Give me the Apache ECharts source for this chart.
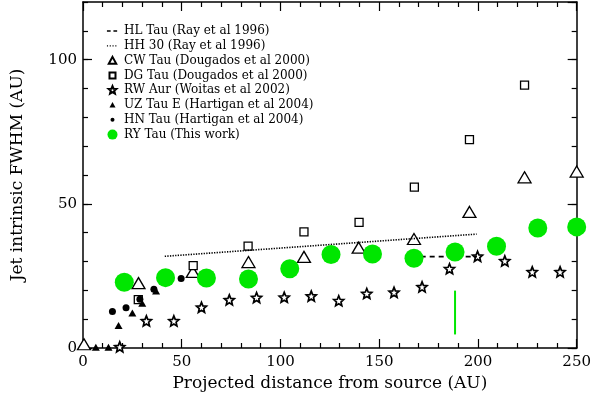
<!DOCTYPE html>
<html>
<head>
<meta charset="UTF-8">
<title>Jet intrinsic FWHM vs projected distance</title>
<script src="https://cdn.jsdelivr.net/npm/echarts@6/dist/echarts.min.js"></script>
<style>
  html, body { margin: 0; padding: 0; background: #fff; }
  #main { width: 594px; height: 397px; }
</style>
</head>
<body>
<div id="main"></div>
<script>
// values (x: AU from source, y: FWHM in AU)
var ryX = [20.9, 41.8, 62.5, 83.8, 104.7, 125.6, 146.6, 167.6, 188.4, 209.4, 230.3, 250];
var ryY = [22.8, 24.4, 24.3, 23.9, 27.5, 32.4, 32.6, 31.1, 33.3, 35.3, 41.6, 42.0];

var cwX = [0.5, 28.1, 55.6, 83.8, 111.9, 139.6, 167.6, 195.7, 223.6, 250];
var cwY = [1.3, 22.5, 26.4, 29.8, 31.6, 34.8, 37.8, 47.2, 59.2, 61.2];

var dgX = [28.0, 55.8, 83.6, 111.9, 139.8, 167.8, 195.7, 223.6];
var dgY = [16.8, 28.6, 35.3, 40.3, 43.6, 55.8, 72.3, 91.2];

var rwX = [18.6, 32.1, 46.0, 60.0, 74.1, 87.9, 101.9, 115.6, 129.5, 143.7, 157.5, 171.7, 185.6, 199.8, 213.6, 227.5, 241.6];
var rwY = [0.4, 9.4, 9.4, 14.1, 16.7, 17.5, 17.6, 18.0, 16.4, 18.9, 19.3, 21.2, 27.5, 31.8, 30.2, 26.4, 26.4];

var uzX = [6.5, 12.9, 18.0, 25.0, 30.0, 37.0];
var uzY = [0.3, 0.3, 7.8, 12.1, 15.5, 19.8];

var hnX = [14.9, 21.8, 28.8, 35.9, 43.0, 49.7];
var hnY = [12.7, 14.0, 16.9, 20.4, 23.5, 24.1];

var hlX = [171, 199.5];
var hlY = [31.7, 31.7];

var hhX = [41.4, 199.3];
var hhY = [31.8, 39.5];

// green vertical marker near 188 AU
var markX = [188.4, 188.4];
var markY = [4.7, 19.9];

var xTicks = [0, 50, 100, 150, 200, 250];
var yTicks = [0, 50, 100];

var names = [
    'HL Tau (Ray et al 1996)',
    'HH 30 (Ray et al 1996)',
    'CW Tau (Dougados et al 2000)',
    'DG Tau (Dougados et al 2000)',
    'RW Aur (Woitas et al 2002)',
    'UZ Tau E (Hartigan et al 2004)',
    'HN Tau (Hartigan et al 2004)',
    'RY Tau (This work)'
];

function pairs(xs, ys) {
    var out = [];
    for (var i = 0; i < xs.length; i++) out.push([xs[i], ys[i]]);
    return out;
}

var starPath = 'path://M10,0L12.65,6.36L19.51,6.91L14.28,11.39L15.88,18.09L10,14.5L4.12,18.09L5.72,11.39L0.49,6.91L7.35,6.36Z';
var FONT = 'DejaVu Serif';
var GREEN = '#00e600';

var myChart = echarts.init(document.getElementById('main'));

function yAxisDef(pos, major, showLabel) {
    return {
        type: 'value', position: pos, min: 0, max: 120,
        interval: major ? 50 : 10,
        name: (showLabel ? 'Jet intrinsic FWHM (AU)' : ''),
        nameLocation: 'middle', nameGap: 57,
        nameTextStyle: { fontFamily: FONT, fontSize: 17, color: '#000' },
        axisLine: { show: major, lineStyle: { color: '#000', width: 1.5 } },
        axisTick: { show: true, inside: true, length: major ? 9 : 5, lineStyle: { color: '#000', width: 1.2 } },
        axisLabel: {
            show: showLabel, margin: 6, showMaxLabel: false,
            fontFamily: FONT, fontSize: 15, color: '#000',
            formatter: function (v) { return yTicks.indexOf(v) >= 0 ? String(v) : ''; }
        },
        splitLine: { show: false }
    };
}

function xAxisDef(pos, showLabel) {
    return {
        type: 'value', position: pos, min: 0, max: 250, interval: 50,
        name: (showLabel ? 'Projected distance from source (AU)' : ''),
        nameLocation: 'middle', nameGap: 27,
        nameTextStyle: { fontFamily: FONT, fontSize: 17, color: '#000' },
        axisLine: { show: true, onZero: false, lineStyle: { color: '#000', width: 1.5 } },
        axisTick: { show: true, inside: true, length: 9, lineStyle: { color: '#000', width: 1.2 } },
        minorTick: { show: true, splitNumber: 5, length: 5, lineStyle: { color: '#000', width: 1.2 } },
        axisLabel: {
            show: showLabel, margin: 7,
            fontFamily: FONT, fontSize: 15, color: '#000',
            formatter: function (v) { return xTicks.indexOf(v) >= 0 ? String(v) : ''; }
        },
        splitLine: { show: false }
    };
}

var openStyle = { color: '#fff', borderColor: '#000', borderWidth: 1.3, opacity: 1 };

option = {
    animation: false,
    backgroundColor: '#fff',
    grid: { left: 83, right: 14, top: 2, bottom: 45, containLabel: false },
    xAxis: [xAxisDef('bottom', true), xAxisDef('top', false)],
    yAxis: [
        yAxisDef('left', true, true),
        yAxisDef('left', false, false),
        yAxisDef('right', true, false),
        yAxisDef('right', false, false)
    ],
    legend: {
        orient: 'vertical', left: 106, top: 25, padding: 0,
        itemWidth: 13, itemHeight: 10, itemGap: 2.8,
        textStyle: { fontFamily: FONT, fontSize: 12, color: '#000' },
        data: [
            { name: names[0], icon: 'path://M0,0M14,10M1,4.2L5,4.2L5,5.8L1,5.8Z M8,4.2L12,4.2L12,5.8L8,5.8Z' },
            { name: names[1], icon: 'path://M0,0M14,10M1,4.3L2.2,4.3L2.2,5.7L1,5.7Z M4,4.3L5.2,4.3L5.2,5.7L4,5.7Z M7,4.3L8.2,4.3L8.2,5.7L7,5.7Z M10,4.3L11.2,4.3L11.2,5.7L10,5.7Z' },
            { name: names[2], icon: 'path://M0,0M20,20M10,2.5L17.5,16.5L2.5,16.5Z' },
            { name: names[3], icon: 'path://M0,0M20,20M4,4L16,4L16,16L4,16Z' },
            { name: names[4], icon: 'path://M-2,-2M22,22M10,0L12.65,6.36L19.51,6.91L14.28,11.39L15.88,18.09L10,14.5L4.12,18.09L5.72,11.39L0.49,6.91L7.35,6.36Z' },
            { name: names[5], icon: 'path://M0,0M20,20M10,4L16,15L4,15Z' },
            { name: names[6], icon: 'path://M0,0M20,20M10,6A4,4,0,1,1,9.99,6Z' },
            { name: names[7], icon: 'circle' }
        ]
    },
    series: [
        {
            name: names[0], type: 'line', data: pairs(hlX, hlY), symbol: 'none',
            lineStyle: { color: '#000', width: 1.8, type: [5, 4] }, itemStyle: { color: '#000' }
        },
        {
            name: names[1], type: 'line', data: pairs(hhX, hhY), symbol: 'none',
            lineStyle: { color: '#000', width: 1.6, type: [1.3, 1.3] }, itemStyle: { color: '#000' }
        },
        {
            name: names[2], type: 'scatter', data: pairs(cwX, cwY),
            symbol: 'triangle', symbolSize: [13, 11], itemStyle: openStyle
        },
        {
            name: names[3], type: 'scatter', data: pairs(dgX, dgY),
            symbol: 'rect', symbolSize: 8, itemStyle: openStyle
        },
        {
            name: names[4], type: 'scatter', data: pairs(rwX, rwY),
            symbol: starPath, symbolSize: 10,
            itemStyle: { color: '#fff', borderColor: '#000', borderWidth: 1.7, opacity: 1 }
        },
        {
            name: names[5], type: 'scatter', data: pairs(uzX, uzY),
            symbol: 'triangle', symbolSize: [8, 7], itemStyle: { color: '#000', opacity: 1 }
        },
        {
            name: names[6], type: 'scatter', data: pairs(hnX, hnY),
            symbol: 'circle', symbolSize: 7, itemStyle: { color: '#000', opacity: 1 }
        },
        {
            name: names[7], type: 'scatter', data: pairs(ryX, ryY), z: 5,
            symbol: 'circle', symbolSize: 19, itemStyle: { color: GREEN, opacity: 1 }
        },
        {
            name: 'marker', type: 'line', data: pairs(markX, markY), symbol: 'none',
            lineStyle: { color: GREEN, width: 2 }
        }
    ]
};

myChart.setOption(option);
</script>
</body>
</html>
